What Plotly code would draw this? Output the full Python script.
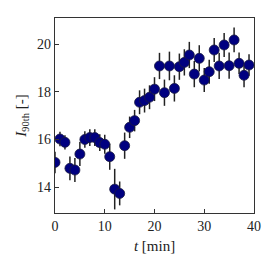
import plotly.graph_objects as go

t_min = list(range(40))
i90 = [15.04, 16.02, 15.88, 14.79, 14.72, 15.39, 16.0, 16.08, 16.08, 15.87,
       15.80, 15.28, 13.92, 13.74, 15.74, 16.51, 16.79, 17.56, 17.63, 17.77,
       18.11, 19.08, 17.96, 19.08, 18.14, 19.05, 19.23, 19.54, 18.74, 19.40,
       18.49, 18.84, 19.75, 19.08, 19.96, 19.09, 20.17, 19.19, 18.69, 19.12]
i90_err = [0.45, 0.3, 0.3, 0.5, 0.5, 0.5, 0.35, 0.35, 0.35, 0.35,
           0.4, 0.55, 0.85, 0.5, 0.55, 0.45, 0.45, 0.5, 0.5, 0.5,
           0.5, 0.55, 0.55, 0.6, 0.55, 0.55, 0.55, 0.55, 0.55, 0.55,
           0.5, 0.5, 0.5, 0.55, 0.5, 0.55, 0.52, 0.45, 0.5, 0.45]

font = "Liberation Serif"

fig = go.Figure()
fig.add_trace(go.Scatter(
    x=t_min, y=i90, mode="markers",
    error_y=dict(type="data", array=i90_err, color="#222222", thickness=1.5, width=0),
    marker=dict(size=10, color="#000080", line=dict(color="#1a1a40", width=0.8)),
    showlegend=False,
))

axis_common = dict(
    showline=True, linecolor="#333333", linewidth=1.2, mirror=True,
    ticks="inside", ticklen=4, tickcolor="#333333", showgrid=False, zeroline=False,
    automargin=False,
    tickfont=dict(family=font, size=14, color="#222222"),
)
fig.update_xaxes(range=[0, 40], tickvals=[0, 10, 20, 30, 40],
                 title=dict(text="<i>t</i> [min]", font=dict(family=font, size=15, color="#222222"), standoff=7),
                 **axis_common)
fig.update_yaxes(range=[12.92, 21.09], tickvals=[14, 16, 18, 20],
                 title=dict(text="<i>I</i><sub>90th</sub> [-]", font=dict(family=font, size=15, color="#222222"), standoff=6),
                 **axis_common)
fig.update_layout(
    width=268, height=268,
    margin=dict(l=47, r=22, t=10, b=63),
    plot_bgcolor="white", paper_bgcolor="white",
)
fig.write_html("out.html")
